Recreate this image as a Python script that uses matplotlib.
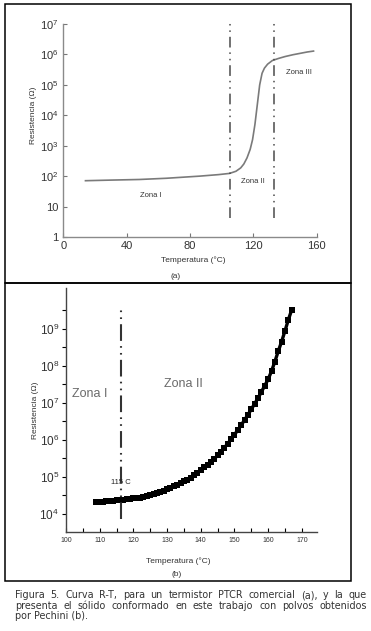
import numpy as np
import matplotlib
matplotlib.use("Agg")
import matplotlib.pyplot as plt
from matplotlib.patches import Rectangle
from matplotlib.ticker import FixedLocator, FuncFormatter, NullFormatter

plt.rcParams["font.family"] = ["Liberation Sans Narrow", "Liberation Sans", "DejaVu Sans"]
plt.rcParams["mathtext.fontset"] = "custom"
plt.rcParams["mathtext.rm"] = "Liberation Sans"
plt.rcParams["mathtext.it"] = "Liberation Sans"

# ---- panel (a): commercial PTCR thermistor ----
temp_a = [14, 30, 48, 65, 86, 98, 105, 109, 112, 114, 116, 118, 119.5, 121, 122.5,
          124, 125.5, 127, 129, 132, 136, 140, 145, 150, 154, 158]
log_r_a = [1.85, 1.87, 1.89, 1.93, 2.00, 2.05, 2.09, 2.16, 2.27, 2.40, 2.60, 2.88,
           3.20, 3.70, 4.35, 5.00, 5.38, 5.55, 5.68, 5.80, 5.87, 5.93, 5.99, 6.04, 6.08, 6.11]
zones_a_x = [105, 133]
zone_labels_a = ["Zona I", "Zona II", "Zona III"]
zone_label_pos_a = [(55, 1.38), (119.5, 1.81), (148.5, 5.42)]
xticks_a = [0, 40, 80, 120, 160]
yticks_a = [0, 1, 2, 3, 4, 5, 6, 7]

# ---- panel (b): Pechini sample ----
temp_b = list(range(109, 168))
log_r_b = [4.31, 4.32, 4.33, 4.34, 4.35, 4.36, 4.37, 4.38, 4.39, 4.40,
           4.41, 4.42, 4.43, 4.44, 4.46, 4.49, 4.51, 4.54, 4.57, 4.60,
           4.63, 4.67, 4.71, 4.75, 4.79, 4.83, 4.88, 4.93, 4.98, 5.04,
           5.11, 5.19, 5.26, 5.33, 5.41, 5.49, 5.58, 5.68, 5.79, 5.90,
           6.02, 6.14, 6.27, 6.40, 6.54, 6.68, 6.83, 6.98, 7.13, 7.30,
           7.47, 7.64, 7.86, 8.12, 8.40, 8.66, 8.95, 9.25, 9.52]
transition_b = 116.3
xticks_b = [100, 110, 120, 130, 140, 150, 160, 170]
yticks_b = [4, 5, 6, 7, 8, 9]

caption = ["Figura 5. Curva R-T, para un termistor PTCR comercial (a), y la que",
           "presenta el sólido conformado en este trabajo con polvos obtenidos",
           "por Pechini (b)."]

W, H = 371, 631
fig = plt.figure(figsize=(W / 100, H / 100), dpi=100)


def fx(px):
    return px / W


def fy(py):
    return 1 - py / H


def sup_fmt(v, pos):
    e = int(round(np.log10(v)))
    if e == 0:
        return "1"
    if e == 1:
        return "10"
    return r"$\mathregular{10^{%d}}$" % e


# frames around panels
for top, bot in [(4, 283), (283, 581)]:
    fig.add_artist(Rectangle((fx(5), fy(bot)), fx(351) - fx(5), fy(top) - fy(bot),
                             transform=fig.transFigure, fill=False,
                             edgecolor="black", linewidth=1.1))

# ---------- (a) ----------
ax1 = fig.add_axes([fx(63.3), fy(237), fx(316.7) - fx(63.3), fy(24) - fy(237)])
ax1.set_yscale("log")
ax1.plot(temp_a, [10 ** v for v in log_r_a], color="#7a7a7a", linewidth=1.2)
for xv in zones_a_x:
    ax1.plot([xv, xv], [10 ** 0.63, 10 ** 7.05], color="#4a4a4a", linewidth=1.1,
             linestyle=(0, (7, 3.2, 1, 3.2, 1, 3.2)), clip_on=False)
for lab, (xx, yy) in zip(zone_labels_a, zone_label_pos_a):
    ax1.text(xx, 10 ** yy, lab, fontsize=5.5, color="#333333", ha="center", va="center")
ax1.set_xlim(0, 160)
ax1.set_ylim(1, 1e7)
ax1.xaxis.set_major_locator(FixedLocator(xticks_a))
ax1.yaxis.set_major_locator(FixedLocator([10 ** e for e in yticks_a]))
ax1.yaxis.set_minor_locator(FixedLocator([]))
ax1.yaxis.set_major_formatter(FuncFormatter(sup_fmt))
ax1.tick_params(direction="in", length=3, width=0.8, color="#777777",
                labelsize=8, labelcolor="#333333")
ax1.tick_params(axis="x", pad=3)
for s in ["top", "right"]:
    ax1.spines[s].set_visible(False)
for s in ["left", "bottom"]:
    ax1.spines[s].set_color("#8a8a8a")
    ax1.spines[s].set_linewidth(1.0)
ax1.set_ylabel("Resistencia (Ω)", fontsize=6, color="#333333")
ax1.yaxis.set_label_coords(-0.104, 0.573)
ax1.set_xlabel("Temperatura (°C)", fontsize=6, color="#333333", va="center")
ax1.xaxis.set_label_coords(0.512, -0.108)
fig.text(fx(176), fy(276), "(a)", fontsize=6, ha="center", va="center", color="#333333")

# ---------- (b) ----------
ax2 = fig.add_axes([fx(66), fy(531.7), fx(317) - fx(66), fy(288.3) - fy(531.7)])
ax2.set_yscale("log")
ax2.plot(temp_b, [10 ** v for v in log_r_b], color="black", linewidth=2.4,
         marker="s", markersize=4.0, markeredgewidth=0)
ax2.plot([transition_b, transition_b], [10 ** 3.86, 10 ** 9.57], color="#333333",
         linewidth=1.5, linestyle=(0, (8, 2.5, 0.8, 2.5, 0.8, 2.5)))
ax2.text(107.1, 10 ** 7.23, "Zona I", fontsize=9, color="#6a6a6a", ha="center", va="center")
ax2.text(134.8, 10 ** 7.50, "Zona II", fontsize=9, color="#6a6a6a", ha="center", va="center")
ax2.text(116.3, 10 ** 4.86, "115 C", fontsize=5.5, color="#222222", ha="center", va="center")
ax2.set_xlim(100, 174.5)
ax2.set_ylim(10 ** 3.52, 10 ** 10.1)
ax2.xaxis.set_major_locator(FixedLocator(xticks_b))
ax2.xaxis.set_minor_locator(FixedLocator([t + 5 for t in xticks_b]))
ax2.yaxis.set_major_locator(FixedLocator([10 ** e for e in yticks_b]))
ax2.yaxis.set_minor_locator(FixedLocator([10 ** (e + 0.5) for e in [3] + yticks_b]))
ax2.yaxis.set_major_formatter(FuncFormatter(sup_fmt))
ax2.yaxis.set_minor_formatter(NullFormatter())
ax2.tick_params(axis="x", which="both", direction="in", length=3, width=0.8,
                labelsize=5, labelcolor="#333333", pad=4)
ax2.tick_params(axis="y", which="both", direction="out", length=3, width=0.8,
                labelsize=8.5, labelcolor="#333333", pad=2)
for s in ["top", "right"]:
    ax2.spines[s].set_visible(False)
for s in ["left", "bottom"]:
    ax2.spines[s].set_color("#444444")
    ax2.spines[s].set_linewidth(1.0)
ax2.set_ylabel("Resistencia (Ω)", fontsize=6, color="#333333")
ax2.yaxis.set_label_coords(-0.108, 0.5)
ax2.set_xlabel("Temperatura (°C)", fontsize=6, color="#333333", va="center")
ax2.xaxis.set_label_coords(0.446, -0.12)
fig.text(fx(177), fy(574), "(b)", fontsize=6, ha="center", va="center", color="#333333")

# ---------- caption (justified first two lines) ----------
cap_left, cap_right = 15, 367
cap_y = [595, 606, 616]
cap_size = 6.9
renderer = fig.canvas.get_renderer()
for i, line in enumerate(caption):
    if i == len(caption) - 1:
        fig.text(fx(cap_left), fy(cap_y[i]), line, fontsize=cap_size, color="#333333",
                 family="DejaVu Sans", va="center")
        continue
    words = line.split(" ")
    arts = [fig.text(0, fy(cap_y[i]), w, fontsize=cap_size, color="#333333",
                     family="DejaVu Sans", va="center") for w in words]
    widths = [a.get_window_extent(renderer).width for a in arts]
    gap = (cap_right - cap_left - sum(widths)) / (len(words) - 1)
    xpos = cap_left
    for a, w in zip(arts, widths):
        a.set_x(fx(xpos))
        xpos += w + gap

fig.savefig("out.png", dpi=100)
